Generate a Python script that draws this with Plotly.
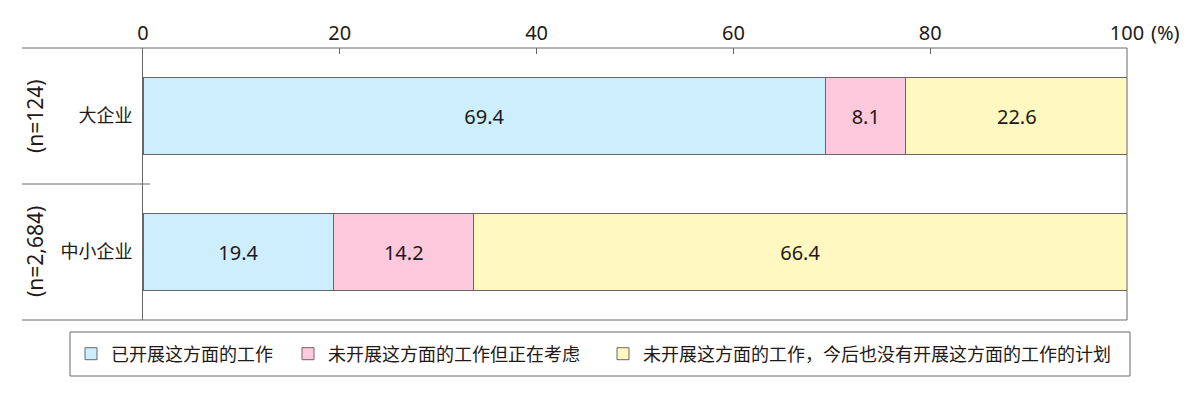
import plotly.graph_objects as go

# 企业规模及样本数
companies = ["大企业", "中小企业"]
sample_n = ["(n=124)", "(n=2,684)"]

# 各回答的占比 (%)
done = [69.4, 19.4]
considering = [8.1, 14.2]
no_plan = [22.6, 66.4]

series_names = ["已开展这方面的工作", "未开展这方面的工作但正在考虑",
                "未开展这方面的工作，今后也没有开展这方面的工作的计划"]
series_colors = ["#cdeefc", "#ffc9dd", "#fff9c1"]
tick_vals = [0, 20, 40, 60, 80, 100]
tick_text = ["0", "20", "40", "60", "80", "100"]

FONT = "Noto Sans, Noto Sans CJK SC"
LINE = "#6b6666"
TXT = "#231815"

# 图例位置 (像素)
legend_px = [71, 288, 603]
L, R, T, B = 143, 73, 48, 80
W, H = 1200, 400
pw, ph = W - L - R, H - T - B


def px_x(p):
    return (p - L) / pw


def px_y(q):
    return (H - B - q) / ph


fig = go.Figure()
legend_ids = ["legend", "legend2", "legend3"]
for vals, name, col, lg in zip([done, considering, no_plan], series_names,
                               series_colors, legend_ids):
    fig.add_trace(go.Bar(
        y=companies, x=vals, name=name, orientation="h",
        marker=dict(color=col, line=dict(color=LINE, width=1)),
        width=0.56, text=vals, texttemplate="%{x:.1f}",
        textposition="inside", insidetextanchor="middle",
        constraintext="none",
        textfont=dict(family=FONT, size=20, color=TXT),
        legend=lg, showlegend=True, hoverinfo="skip",
    ))

layout_legends = {}
for lg, p in zip(legend_ids, legend_px):
    layout_legends[lg] = dict(
        x=px_x(p), y=px_y(354), xanchor="left", yanchor="middle",
        orientation="h", bgcolor="rgba(0,0,0,0)",
        font=dict(family=FONT, size=18, color=TXT),
    )

shapes = []
# 顶部、底部横线（向左延伸）
for yy in [1, 0]:
    shapes.append(dict(type="line", xref="paper", yref="paper",
                       x0=px_x(22), x1=1, y0=yy, y1=yy,
                       line=dict(color=LINE, width=1)))
# 中间分隔线
shapes.append(dict(type="line", xref="paper", yref="paper",
                   x0=px_x(22), x1=px_x(150), y0=0.5, y1=0.5,
                   line=dict(color=LINE, width=1)))
# 右侧竖线
shapes.append(dict(type="line", xref="paper", yref="paper",
                   x0=1, x1=1, y0=0, y1=1, line=dict(color=LINE, width=1)))
# 图例边框
shapes.append(dict(type="rect", xref="paper", yref="paper",
                   x0=px_x(70), x1=px_x(1130), y0=px_y(332), y1=px_y(376),
                   line=dict(color=LINE, width=1)))

annotations = [dict(text=n, x=px_x(35), y=yy, xref="paper", yref="paper",
                    xanchor="center", yanchor="middle",
                    textangle=-90, showarrow=False,
                    font=dict(family=FONT, size=21, color=TXT))
               for n, yy in zip(sample_n, [0.75, 0.25])]
annotations.append(dict(text="(%)", x=px_x(1149), y=px_y(33), xref="paper",
                        yref="paper", xanchor="left", yanchor="middle",
                        showarrow=False,
                        font=dict(family=FONT, size=20, color=TXT)))

fig.update_layout(
    width=W, height=H, barmode="stack",
    margin=dict(l=L, r=R, t=T, b=B),
    plot_bgcolor="white", paper_bgcolor="white",
    font=dict(family=FONT, size=18, color=TXT),
    xaxis=dict(side="top", range=[0, 100], tickvals=tick_vals,
               ticktext=tick_text, ticks="inside", ticklen=6,
               tickcolor=LINE, showgrid=False, zeroline=False,
               showline=False, ticklabelstandoff=3, fixedrange=True,
               tickfont=dict(family=FONT, size=20, color=TXT)),
    yaxis=dict(categoryorder="array", categoryarray=companies[::-1],
               showline=True, linecolor=LINE, linewidth=1, showgrid=False,
               ticks="", ticklabelstandoff=6, fixedrange=True),
    shapes=shapes, annotations=annotations,
    **layout_legends,
)

fig.write_html("out.html", config={"displayModeBar": False},
               post_script="document.body.style.margin='0';")
